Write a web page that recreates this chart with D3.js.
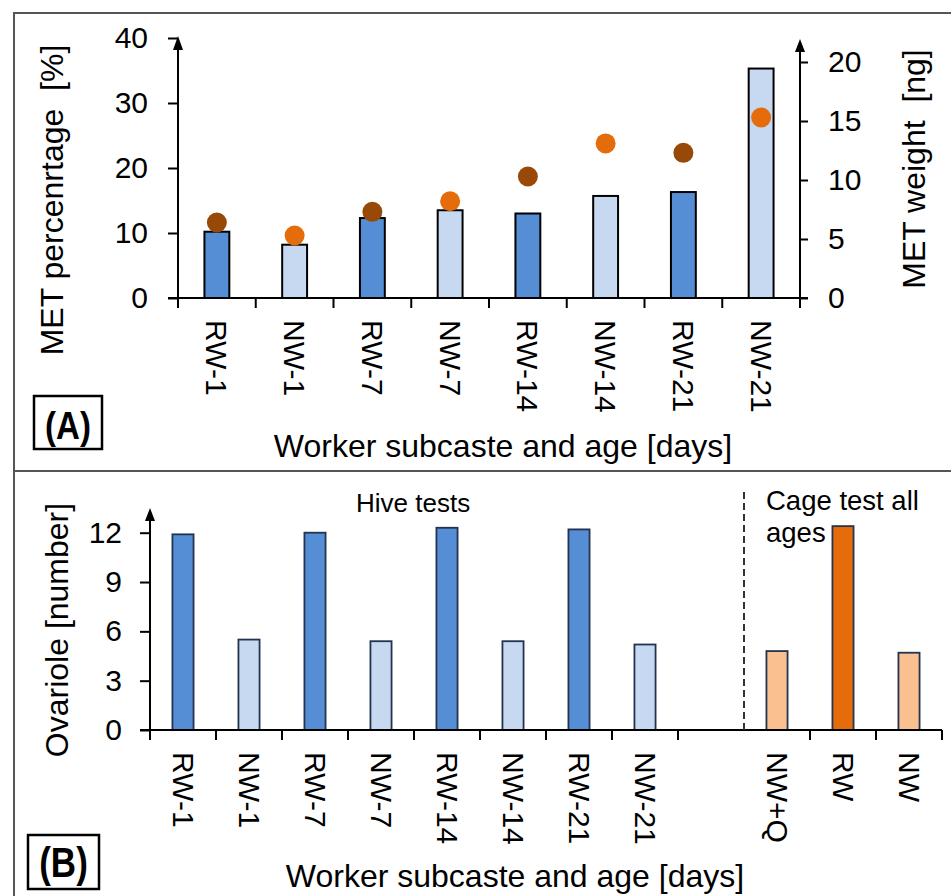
<!DOCTYPE html>
<html><head><meta charset="utf-8">
<script src="https://cdn.jsdelivr.net/npm/d3@7"></script>
<style>
body{margin:0;background:#fff}
text{font-family:"Liberation Sans",Arial,Helvetica,sans-serif;fill:#000}
</style></head>
<body><svg id="c" width="951" height="896"></svg>
<script>
// ---------- data ----------
const categoriesA = ["RW-1","NW-1","RW-7","NW-7","RW-14","NW-14","RW-21","NW-21"];
const metPercent = [10.2, 8.2, 12.3, 13.5, 13.0, 15.7, 16.3, 35.3];   // bars, left axis
const metWeight  = [6.4, 5.3, 7.3, 8.2, 10.3, 13.1, 12.3, 15.3];     // dots, right axis
const percentTicks = [0,10,20,30,40];
const weightTicks = [0,5,10,15,20];

const categoriesHive = ["RW-1","NW-1","RW-7","NW-7","RW-14","NW-14","RW-21","NW-21"];
const ovarioleHive = [11.9, 5.5, 12.0, 5.4, 12.3, 5.4, 12.2, 5.2];
const categoriesCage = ["NW+Q","RW","NW"];
const ovarioleCage = [4.8, 12.4, 4.7];
const ovarioleTicks = [0,3,6,9,12];

const titleA_left = "MET percenrtage\u00A0\u00A0[%]";
const titleA_right = "MET weight\u00A0\u00A0[ng]";
const titleB_left = "Ovariole [number]";
const titleX = "Worker subcaste and age [days]";

const C = {rw:"#558ED5", nw:"#C6D9F1", rwDot:"#984807", nwDot:"#E46C0A", cageRW:"#E46C0A", cageNW:"#FAC090"};

const svg = d3.select("#c");
const FONT = '"Liberation Sans",Arial,Helvetica,sans-serif';

// ---------- frame ----------
svg.append("path").attr("d","M14,896V13H951").attr("fill","none").attr("stroke","#555").attr("stroke-width",2);
svg.append("line").attr("x1",14).attr("x2",951).attr("y1",471).attr("y2",471).attr("stroke","#555").attr("stroke-width",2);

function arrow(x, tip, half, len){
  svg.append("path").attr("d",`M${x},${tip}L${x-half},${tip+len}L${x+half},${tip+len}Z`).attr("fill","#000");
}
const kind = d => d.startsWith("RW") ? "rw" : "nw";

// ---------- Panel A ----------
const xA = d3.scaleBand().domain(categoriesA).range([178,800]);
const yL = d3.scaleLinear().domain([0,40]).range([298,38]);
const yR = d3.scaleLinear().domain([0,20]).range([298,62]);
const bwA = xA.bandwidth()*0.32;

// bars
svg.append("g").selectAll("rect").data(categoriesA).join("rect")
  .attr("x", d => xA(d)+xA.bandwidth()/2-bwA/2)
  .attr("width", bwA)
  .attr("y", (d,i) => yL(metPercent[i]))
  .attr("height", (d,i) => yL(0)-yL(metPercent[i]))
  .attr("fill", d => C[kind(d)])
  .attr("stroke","#000").attr("stroke-width",2);

// left axis
const gL = svg.append("g").attr("transform","translate(178,0)")
  .call(d3.axisLeft(yL).tickValues(percentTicks).tickSize(10).tickPadding(20).tickSizeOuter(0));
gL.select(".domain").remove();
gL.selectAll("line").attr("stroke","#000").attr("stroke-width",2);
gL.selectAll("text").attr("font-size",30).attr("font-family",FONT);
svg.append("line").attr("x1",178).attr("x2",178).attr("y1",298).attr("y2",44).attr("stroke","#000").attr("stroke-width",2);
arrow(178,36,5,14);

// right axis
const gR = svg.append("g").attr("transform","translate(800,0)")
  .call(d3.axisRight(yR).tickValues(weightTicks).tickSize(8).tickPadding(20).tickSizeOuter(0));
gR.select(".domain").remove();
gR.selectAll("line").attr("stroke","#000").attr("stroke-width",2);
gR.selectAll("text").attr("font-size",30).attr("font-family",FONT);
svg.append("line").attr("x1",800).attr("x2",800).attr("y1",298).attr("y2",46).attr("stroke","#000").attr("stroke-width",2);
arrow(800,39,5,13);

// x axis A
svg.append("line").attr("x1",168).attr("x2",808).attr("y1",298).attr("y2",298).attr("stroke","#000").attr("stroke-width",2);
const bA = [...categoriesA.map(d=>xA(d)), xA.range()[1]];
svg.append("g").selectAll("line").data(bA).join("line")
  .attr("x1",d=>d).attr("x2",d=>d).attr("y1",298).attr("y2",308).attr("stroke","#000").attr("stroke-width",2);
const gxA = svg.append("g").attr("transform","translate(0,298)")
  .call(d3.axisBottom(xA).tickSize(0));
gxA.select(".domain").remove();
gxA.selectAll("text").attr("font-size",30).attr("font-family",FONT)
  .attr("transform","rotate(90)").attr("x",22).attr("y",0).attr("dy","0.35em").attr("text-anchor","start");

// dots
svg.append("g").selectAll("circle").data(categoriesA).join("circle")
  .attr("cx", d => xA(d)+xA.bandwidth()/2)
  .attr("cy", (d,i) => yR(metWeight[i]))
  .attr("r", 10)
  .attr("fill", d => kind(d)==="rw" ? C.rwDot : C.nwDot);

// titles A
svg.append("text").attr("transform","translate(63,200) rotate(-90)").attr("text-anchor","middle")
  .attr("font-size",32).text(titleA_left);
svg.append("text").attr("transform","translate(925,169) rotate(-90)").attr("text-anchor","middle")
  .attr("font-size",32).text(titleA_right);
svg.append("text").attr("x",503).attr("y",457).attr("text-anchor","middle").attr("font-size",32).text(titleX);
svg.append("rect").attr("x",34).attr("y",396).attr("width",68).attr("height",53).attr("fill","none").attr("stroke","#000").attr("stroke-width",2.5);
svg.append("text").attr("transform","translate(68,439) scale(1,1.15)").attr("text-anchor","middle")
  .attr("font-size",33).attr("font-weight","bold").text("(A)");

// ---------- Panel B ----------
const GAP = " ";
const categoriesB = [...categoriesHive, GAP, ...categoriesCage];
const xB = d3.scaleBand().domain(categoriesB).range([150,942]);
const yB = d3.scaleLinear().domain([0,12]).range([730,532.7]);
const bwB = xB.bandwidth()*0.32;

const barsB = [
  ...categoriesHive.map((d,i)=>({c:d, v:ovarioleHive[i], fill: C[kind(d)]})),
  ...categoriesCage.map((d,i)=>({c:d, v:ovarioleCage[i], fill: d==="RW" ? C.cageRW : C.cageNW}))
];
svg.append("g").selectAll("rect").data(barsB).join("rect")
  .attr("x", d => xB(d.c)+xB.bandwidth()/2-bwB/2)
  .attr("width", bwB)
  .attr("y", d => yB(d.v))
  .attr("height", d => yB(0)-yB(d.v))
  .attr("fill", d => d.fill)
  .attr("stroke","#22324f").attr("stroke-width",1.8);

const gB = svg.append("g").attr("transform","translate(150,0)")
  .call(d3.axisLeft(yB).tickValues(ovarioleTicks).tickSize(10).tickPadding(18).tickSizeOuter(0));
gB.select(".domain").remove();
gB.selectAll("line").attr("stroke","#000").attr("stroke-width",2);
gB.selectAll("text").attr("font-size",30).attr("font-family",FONT);
svg.append("line").attr("x1",150).attr("x2",150).attr("y1",730).attr("y2",515).attr("stroke","#000").attr("stroke-width",2);
arrow(150,508,5,13);

svg.append("line").attr("x1",140).attr("x2",942).attr("y1",730).attr("y2",730).attr("stroke","#000").attr("stroke-width",2);
const bB = [...categoriesB.filter(d=>d!=="NW+Q").map(d=>xB(d)), xB.range()[1]];
svg.append("g").selectAll("line").data(bB).join("line")
  .attr("x1",d=>d).attr("x2",d=>d).attr("y1",730).attr("y2",740).attr("stroke","#000").attr("stroke-width",2);
const gxB = svg.append("g").attr("transform","translate(0,730)")
  .call(d3.axisBottom(xB).tickValues(categoriesB.filter(d=>d!==GAP)).tickSize(0));
gxB.select(".domain").remove();
gxB.selectAll("text").attr("font-size",30).attr("font-family",FONT)
  .attr("transform","rotate(90)").attr("x",22).attr("y",0).attr("dy","0.35em").attr("text-anchor","start");

// dashed separator
const sepX = xB(categoriesCage[0]);
svg.append("line").attr("x1",sepX).attr("x2",sepX).attr("y1",492).attr("y2",731)
  .attr("stroke","#333").attr("stroke-width",2).attr("stroke-dasharray","7,4");

svg.append("text").attr("x",356).attr("y",512).attr("font-size",26).text("Hive tests");
svg.append("text").attr("x",766).attr("y",510).attr("font-size",27.5).text("Cage test all");
svg.append("text").attr("x",766).attr("y",542).attr("font-size",27.5).text("ages");

svg.append("text").attr("transform","translate(68,630) rotate(-90)").attr("text-anchor","middle")
  .attr("font-size",32).text(titleB_left);
svg.append("text").attr("x",515).attr("y",887).attr("text-anchor","middle").attr("font-size",32).text(titleX);
svg.append("rect").attr("x",28).attr("y",835).attr("width",71).attr("height",54).attr("fill","none").attr("stroke","#000").attr("stroke-width",2.5);
svg.append("text").attr("transform","translate(63.5,877) scale(1,1.22)").attr("text-anchor","middle")
  .attr("font-size",35).attr("font-weight","bold").text("(B)");
</script></body></html>
